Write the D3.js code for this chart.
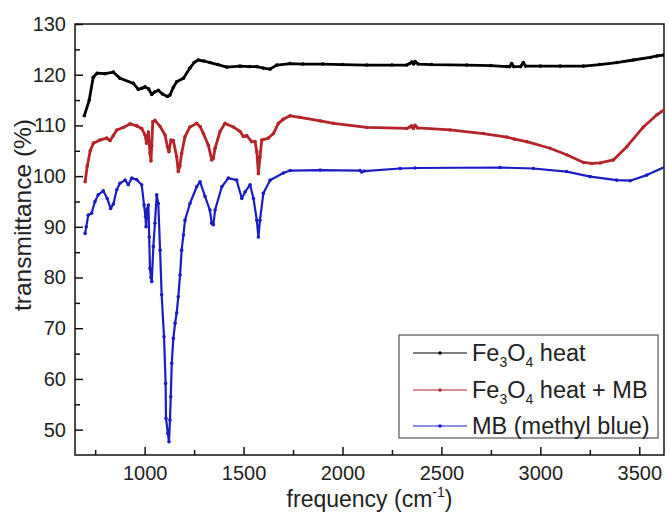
<!DOCTYPE html>
<html><head><meta charset="utf-8">
<script src="https://cdn.jsdelivr.net/npm/d3@7/dist/d3.min.js"></script>
<style>body{margin:0;background:#fff}svg{display:block}text{font-family:"Liberation Sans",Arial,sans-serif;fill:#222}</style>
</head><body>
<script>
const xTicks=[1000,1500,2000,2500,3000,3500];
const yTicks=[50,60,70,80,90,100,110,120,130];
const seriesNames=["Fe3O4 heat","Fe3O4 heat + MB","MB (methyl blue)"];
const blackWN=[695,720,740,760,800,842,875,943,968,985,1002,1020,1036,1050,1069,1090,1115,1128,1145,1162,1196,1229,1250,1271,1300,1330,1370,1415,1482,1530,1567,1600,1634,1668,1735,1800,1900,2000,2123,2250,2325,2340,2350,2360,2367,2382,2450,2628,2750,2830,2845,2855,2865,2900,2914,2925,3000,3100,3218,3300,3386,3470,3555,3590,3627];
const blackT=[111.9,115,119.5,120.3,120.2,120.5,119.3,118.3,117.1,117.3,117.6,117.2,116.1,116.6,116.9,116.2,115.7,116,117.5,118.6,119.3,121.3,122.4,122.9,122.7,122.4,122,121.5,121.7,121.6,121.6,121.3,121.1,121.9,122.2,122.1,122.1,122,121.9,121.9,121.9,122.2,122.5,122.1,122.6,122.1,122,121.9,121.8,121.6,121.6,122.2,121.6,121.6,122.4,121.7,121.7,121.7,121.7,122,122.4,122.9,123.4,123.7,123.9];
const redWN=[699,710,725,741,774,808,825,842,859,892,926,960,985,1002,1010,1019,1027,1032,1036,1041,1052,1078,1103,1115,1123,1133,1145,1162,1170,1178,1187,1204,1229,1263,1280,1297,1322,1339,1347,1356,1381,1406,1448,1482,1499,1516,1541,1558,1567,1575,1583,1592,1625,1651,1676,1700,1735,1785,1887,1954,2123,2325,2340,2350,2358,2367,2380,2544,2712,2830,2870,2931,3049,3133,3218,3260,3302,3369,3437,3521,3589,3639];
const redT=[98.9,102,105,106.5,107.1,107.5,107,108,109.1,109.6,110.3,109.9,109.4,108.1,106.5,108.7,104.5,103,106,110.7,111,109.8,108.1,105.8,104.8,107.1,107,103.8,100.9,102,104.5,107.8,109.7,110.4,109.8,108.4,106.1,103.2,103.5,105.5,108.8,110.4,109.7,108.8,107.8,108,106.8,106.8,104.8,100.5,103.8,107.1,107.5,108.4,110.4,111.2,111.9,111.6,110.9,110.4,109.6,109.4,109.7,109.9,109.4,110,109.5,109.1,108.4,107.7,107.3,106.8,105.5,104.2,102.7,102.5,102.6,103.2,105.8,109.7,112.1,113.4];
const blueWN=[699,705,715,732,749,765,791,811,828,842,859,875,901,917,935,960,985,997,1004,1007,1012,1019,1023,1027,1032,1036,1044,1052,1061,1069,1078,1086,1098,1106,1108,1117,1123,1128,1132,1137,1145,1154,1162,1170,1179,1187,1196,1204,1229,1263,1280,1305,1330,1339,1347,1356,1390,1423,1465,1491,1508,1533,1550,1567,1575,1583,1600,1634,1701,1735,1887,2089,2097,2110,2291,2367,2797,2965,3133,3252,3386,3454,3538,3639];
const blueT=[88.7,90,92.3,92.7,95,96.3,97.1,95.6,93.6,94.5,97.3,98.6,99.2,98.3,99.6,99.3,98.3,94.3,92,90,93.5,94.3,88,81.8,80,79.2,86.1,90.7,96.3,94.6,85.4,76.6,68.3,59.1,52.2,49.3,47.6,51.9,56.5,63.1,68,71,73,76.2,80.5,85.4,88.4,91.3,94.6,97.9,98.9,96,93.3,90.7,90.4,93.3,97.9,99.6,99.2,95.6,96.9,98.3,95.6,91.3,88,91.3,96.6,99.2,100.6,101.1,101.2,101.1,100.8,101,101.5,101.6,101.7,101.5,100.9,99.9,99.2,99.1,100.2,102];
const colors=["#000000","#b5242a","#1c1cc4"];

const W=669,H=516,L=75,R=664,T=24,B=455;
const svg=d3.select("body").append("svg").attr("width",W).attr("height",H);
const x=d3.scaleLinear().domain([648,3625]).range([L,R]);
const y=d3.scaleLinear().domain([45,130]).range([B,T]);

svg.append("defs").append("clipPath").attr("id","c").append("rect").attr("x",L).attr("y",T).attr("width",R-L).attr("height",B-T);

const xa=svg.append("g").attr("transform",`translate(0,${B})`).call(d3.axisBottom(x).tickValues(xTicks).tickSize(-8).tickPadding(11).tickFormat(d3.format("d")));
const xm=svg.append("g").attr("transform",`translate(0,${B})`).call(d3.axisBottom(x).tickValues([750,1250,1750,2250,2750,3250]).tickSize(-5).tickFormat(""));
const ya=svg.append("g").attr("transform",`translate(${L},0)`).call(d3.axisLeft(y).tickValues(yTicks).tickSize(-8).tickPadding(9));
const ym=svg.append("g").attr("transform",`translate(${L},0)`).call(d3.axisLeft(y).tickValues([55,65,75,85,95,105,115,125]).tickSize(-5).tickFormat(""));
[xa,xm,ya,ym].forEach(g=>{g.select(".domain").remove();g.selectAll("line").attr("stroke","#111").attr("stroke-width",1.5);g.selectAll("text").attr("font-size",20).attr("fill","#222");});
svg.append("rect").attr("x",L).attr("y",T).attr("width",R-L).attr("height",B-T).attr("fill","none").attr("stroke","#111").attr("stroke-width",1.5);

const data=[[blackWN,blackT],[redWN,redT],[blueWN,blueT]];
const line=d3.line().x(d=>x(d[0])).y(d=>y(d[1]));
const pg=svg.append("g").attr("clip-path","url(#c)");
data.forEach(([wn,t],i)=>{
  const pts=wn.map((w,k)=>[w,t[k]]);
  pg.append("path").datum(pts).attr("d",line).attr("fill","none").attr("stroke",colors[i]).attr("stroke-width",i==2?2.2:2.8).attr("stroke-linejoin","round");
  pg.selectAll(null).data(pts).enter().append("circle").attr("cx",d=>x(d[0])).attr("cy",d=>y(d[1])).attr("r",1.8).attr("fill",colors[i]);
});

const xt=svg.append("text").attr("x",(L+R)/2).attr("y",507).attr("text-anchor","middle").attr("font-size",23);
xt.append("tspan").text("frequency (cm");
xt.append("tspan").attr("font-size",14).attr("dy",-10).text("-1");
xt.append("tspan").attr("dy",10).text(")");
svg.append("text").attr("transform","translate(31,215) rotate(-90)").attr("text-anchor","middle").attr("font-size",24.5).text("transmittance (%)");

const lg=svg.append("g");
lg.append("rect").attr("x",399).attr("y",335).attr("width",259).attr("height",103).attr("fill","#fff").attr("stroke","#555").attr("stroke-width",1.2);
const rows=[353,390,426];
rows.forEach((ry,i)=>{
  lg.append("line").attr("x1",413).attr("x2",467).attr("y1",ry).attr("y2",ry).attr("stroke",colors[i]).attr("stroke-width",1.2);
  lg.append("circle").attr("cx",440).attr("cy",ry).attr("r",1.8).attr("fill",colors[i]);
  const t=lg.append("text").attr("x",472).attr("y",ry+8).attr("font-size",23.5);
  if(i<2){
    t.append("tspan").text("Fe");
    t.append("tspan").attr("font-size",14).attr("dy",6).text("3");
    t.append("tspan").attr("dy",-6).text("O");
    t.append("tspan").attr("font-size",14).attr("dy",6).text("4");
    t.append("tspan").attr("dy",-6).text(i==0?" heat":" heat + MB");
  } else t.text(seriesNames[2]);
});
</script>
</body></html>
